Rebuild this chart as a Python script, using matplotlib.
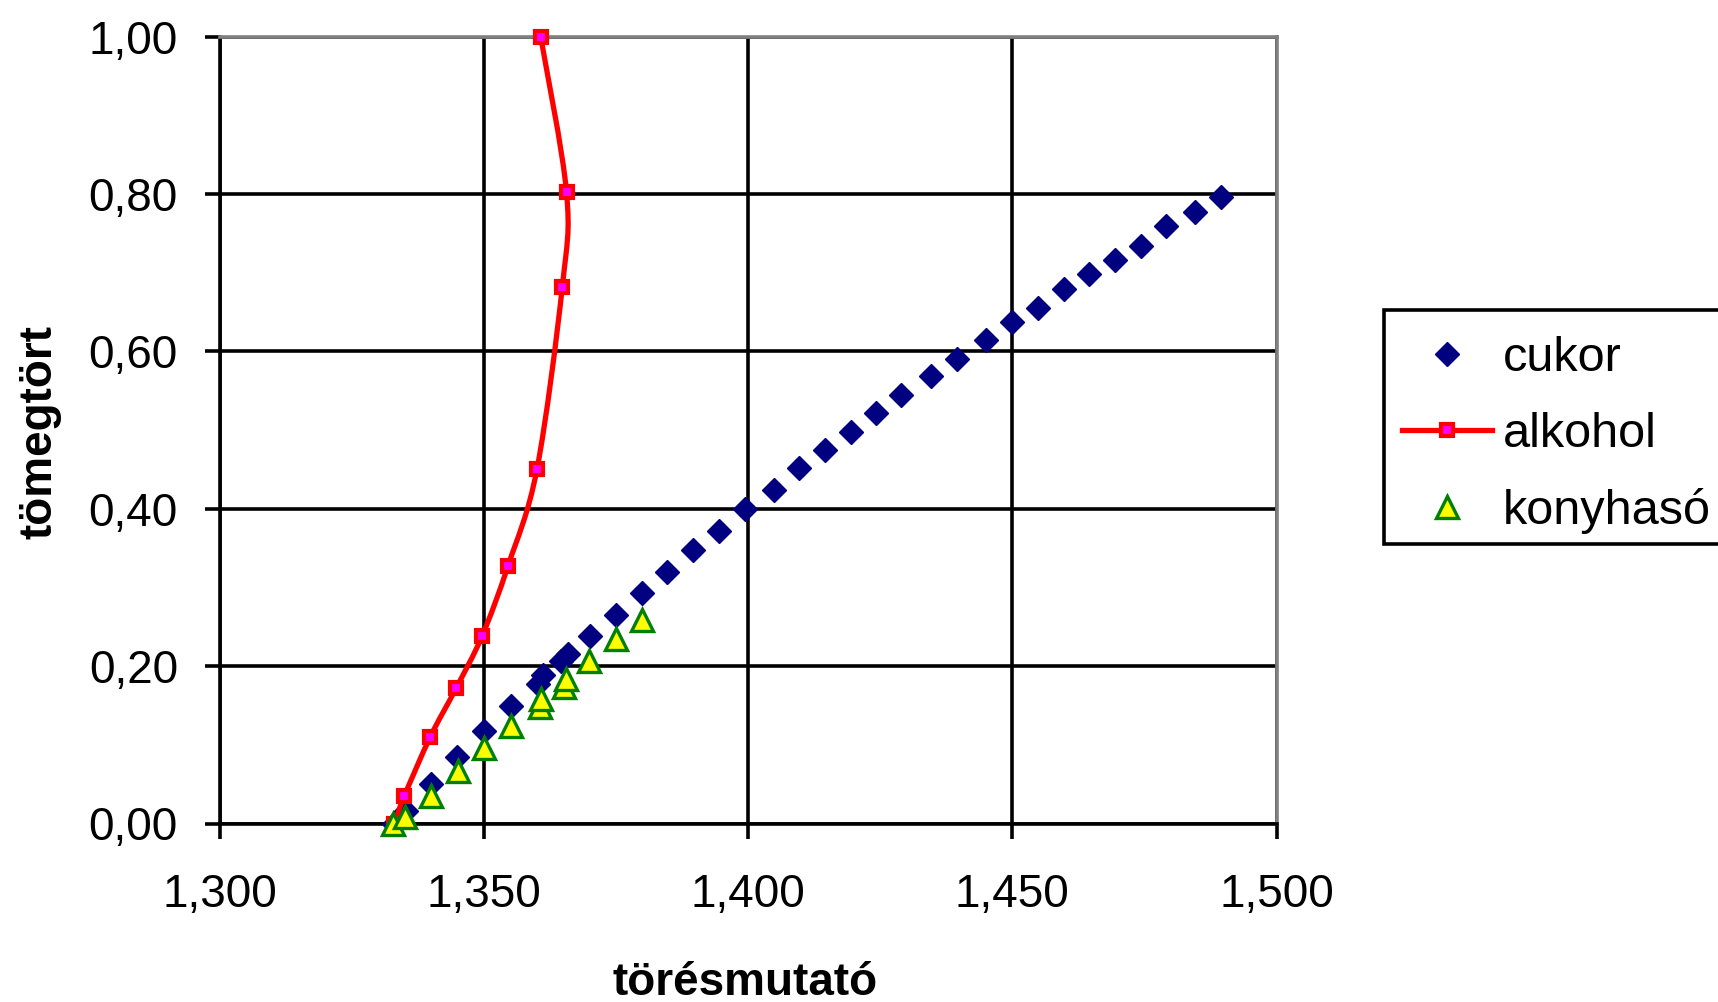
import numpy as np
import matplotlib
matplotlib.use('Agg')
import matplotlib.pyplot as plt
from matplotlib.path import Path
from matplotlib.patches import PathPatch, Rectangle
from matplotlib.lines import Line2D

plt.rcParams['font.family'] = ['Liberation Sans', 'DejaVu Sans']

# cukor (sugar) - törésmutató / tömegtört
cukor_x = [1.3330, 1.3352, 1.3400, 1.3449, 1.3500, 1.3550, 1.3602, 1.3611,
           1.3646, 1.3658, 1.3701, 1.3749, 1.3798, 1.3846, 1.3895, 1.3944,
           1.3993, 1.4049, 1.4097, 1.4145, 1.4194, 1.4242, 1.4290, 1.4346,
           1.4395, 1.4451, 1.4500, 1.4549, 1.4597, 1.4645, 1.4694, 1.4743,
           1.4791, 1.4846, 1.4895]
cukor_y = [0.000, 0.016, 0.050, 0.084, 0.118, 0.149, 0.177, 0.189,
           0.206, 0.216, 0.238, 0.265, 0.293, 0.320, 0.348, 0.372,
           0.400, 0.424, 0.452, 0.474, 0.498, 0.521, 0.545, 0.568,
           0.590, 0.614, 0.637, 0.655, 0.679, 0.698, 0.716, 0.734,
           0.759, 0.777, 0.796]

# alkohol
alk_x = [1.3330, 1.3349, 1.3398, 1.3447, 1.3496, 1.3545, 1.3600, 1.3648, 1.3656, 1.3607]
alk_y = [0.000, 0.035, 0.110, 0.172, 0.238, 0.327, 0.450, 0.682, 0.802, 1.000]

# konyhasó
so_x = [1.3328, 1.3350, 1.3400, 1.3450, 1.3500, 1.3550, 1.3605, 1.3608,
        1.3652, 1.3655, 1.3699, 1.3749, 1.3798]
so_y = [0.000, 0.008, 0.035, 0.067, 0.096, 0.124, 0.148, 0.158,
        0.174, 0.183, 0.206, 0.234, 0.258]

x_ticks = [1.300, 1.350, 1.400, 1.450, 1.500]
y_ticks = [0.00, 0.20, 0.40, 0.60, 0.80, 1.00]
x_labels = ['1,300', '1,350', '1,400', '1,450', '1,500']
y_labels = ['0,00', '0,20', '0,40', '0,60', '0,80', '1,00']

W, H = 1718, 1002
LW = 2.6
FS = 33


def smooth_path(xs, ys):
    # Excel-style smoothed line: cubic bezier through the points
    pts = np.column_stack([xs, ys])
    n = len(pts)
    verts = [pts[0]]
    codes = [Path.MOVETO]
    for i in range(n - 1):
        p0 = pts[i - 1] if i > 0 else pts[i]
        p1 = pts[i]
        p2 = pts[i + 1]
        p3 = pts[i + 2] if i + 2 < n else pts[i + 1]
        c1 = p1 + (p2 - p0) / 6.0
        c2 = p2 - (p3 - p1) / 6.0
        verts += [c1, c2, p2]
        codes += [Path.CURVE4] * 3
    return Path(verts, codes)


fig = plt.figure(figsize=(W / 100, H / 100), dpi=100)
fig.patch.set_facecolor('white')
ax = fig.add_axes([220 / W, 1 - 823.5 / H, 1056.5 / W, 787 / H])

ax.set_xlim(1.3, 1.5)
ax.set_ylim(0, 1)
ax.set_xticks(x_ticks)
ax.set_xticklabels(x_labels)
ax.set_yticks(y_ticks)
ax.set_yticklabels(y_labels)

ax.grid(True, color='black', linewidth=LW, zorder=1)
ax.set_axisbelow(True)
for side in ['left', 'bottom']:
    ax.spines[side].set_color('black')
    ax.spines[side].set_linewidth(LW)
for side in ['top', 'right']:
    ax.spines[side].set_color('#808080')
    ax.spines[side].set_linewidth(LW)

ax.tick_params(axis='both', direction='out', length=10.8, width=LW,
               color='black', labelsize=FS)
ax.tick_params(axis='y', pad=19.5)
ax.tick_params(axis='x', pad=25)

# cukor
ax.plot(cukor_x, cukor_y, linestyle='none', marker='D', markersize=12.5,
        color='#000080', markeredgecolor='#000080', markeredgewidth=1,
        clip_on=False, zorder=3)

# alkohol
ax.add_patch(PathPatch(smooth_path(alk_x, alk_y), facecolor='none',
                       edgecolor='#ff0000', linewidth=3.8, zorder=4,
                       clip_on=False))
ax.plot(alk_x, alk_y, linestyle='none', marker='s', markersize=8,
        markerfacecolor='#ff00ff', markeredgecolor='#ff0000',
        markeredgewidth=3, clip_on=False, zorder=4)

# konyhasó
ax.plot(so_x, so_y, linestyle='none', marker='^', markersize=16,
        markerfacecolor='#ffff00', markeredgecolor='#008000',
        markeredgewidth=2.4, clip_on=False, zorder=5)

# legend frame runs past the right edge of the picture
fig.add_artist(Rectangle((1384 / W, 1 - 543.5 / H), 420 / W, 233.5 / H,
                         transform=fig.transFigure, facecolor='white',
                         edgecolor='black', linewidth=LW, zorder=1))

handles = [
    Line2D([], [], linestyle='none', marker='D', markersize=12.5,
           color='#000080', markeredgewidth=1),
    Line2D([], [], color='#ff0000', linewidth=3.8, marker='s', markersize=8,
           markerfacecolor='#ff00ff', markeredgecolor='#ff0000',
           markeredgewidth=3),
    Line2D([], [], linestyle='none', marker='^', markersize=16,
           markerfacecolor='#ffff00', markeredgecolor='#008000',
           markeredgewidth=2.4),
]
leg = fig.legend(handles, ['cukor', 'alkohol', 'konyhasó'],
                 loc='upper left', bbox_to_anchor=(1384 / W, 1 - 318 / H),
                 bbox_transform=fig.transFigure, borderaxespad=0,
                 fontsize=35, frameon=False,
                 numpoints=1, handlelength=1.85, handletextpad=0.225,
                 labelspacing=0.643, borderpad=0.37)
leg.set_zorder(2)

fig.text(745 / W, 1 - 995 / H, 'törésmutató', ha='center', va='baseline',
         fontsize=FS, fontweight='bold')
fig.text(40 / W, 1 - 432 / H, 'tömegtört', ha='center', va='center',
         rotation=90, fontsize=FS, fontweight='bold')

fig.savefig('out.png', dpi=100)
